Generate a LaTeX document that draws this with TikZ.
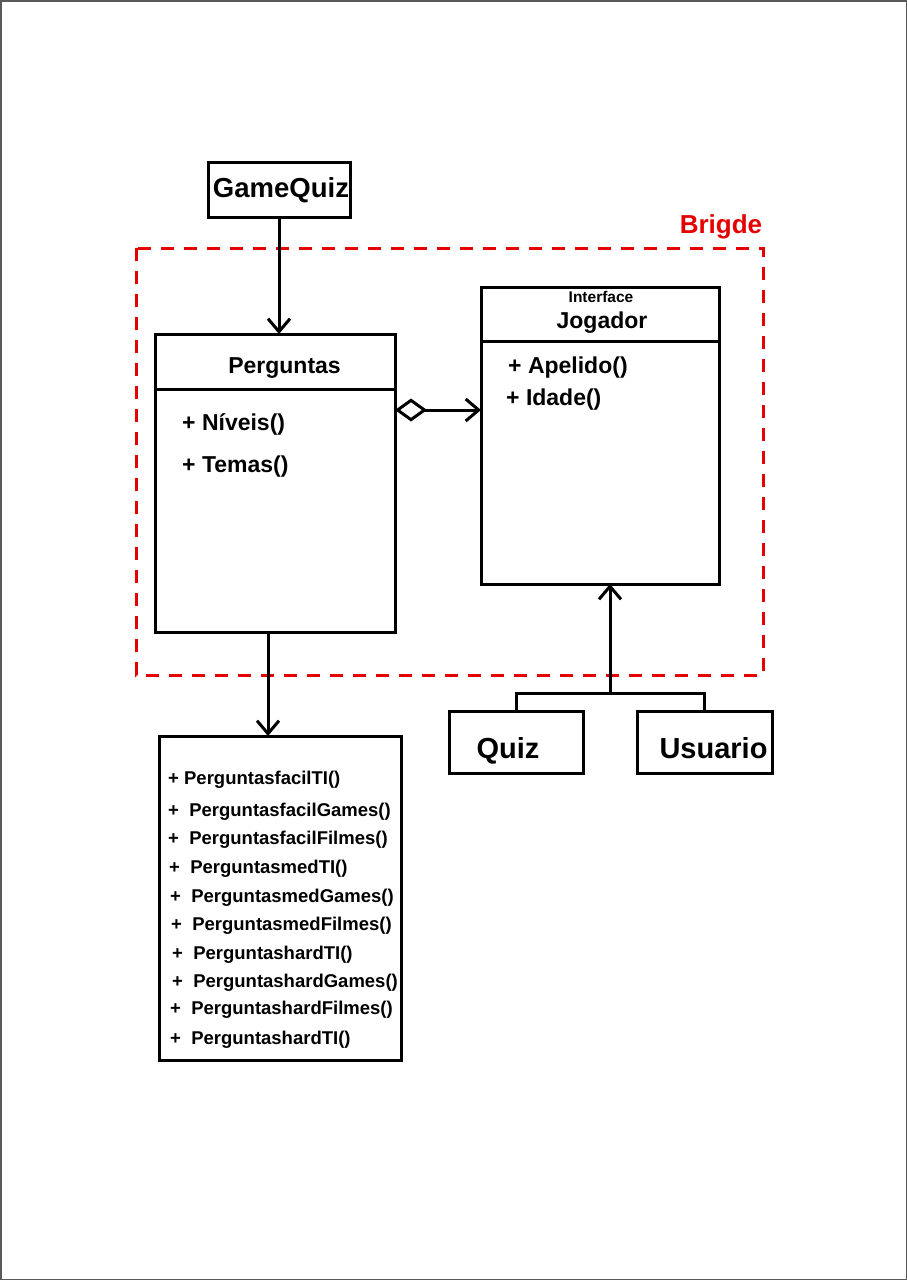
\documentclass[tikz,border=0pt]{standalone}
\usepackage{fontspec}
\setmainfont{Liberation Sans}
\usetikzlibrary{positioning}
\usetikzlibrary{arrows.meta}
\usetikzlibrary{calc}

\begin{document}
\begin{tikzpicture}[x=1pt, y=-1pt,
	box/.style={draw, line width=3pt, inner sep=0, outer sep=0},
	txt/.style={inner sep=0, font=\fontsize{23}{27}\selectfont\bfseries},
	met/.style={inner sep=0, anchor=base west, font=\fontsize{18.5}{21}\selectfont\bfseries},
	arr/.style={line width=3pt, -{Straight Barb[length=13pt, width=22pt]}}]

		\useasboundingbox (0,0) rectangle (907,1280);
		\draw[line width=1.5pt, black!65] (0.75,0.75) rectangle (906.25,1279.25);

		% classes
		\node[box, minimum width=142, minimum height=55] (GQ) at (279,189.5) {};
		\node[txt, anchor=base, font=\fontsize{27.5}{30}\selectfont\bfseries] (GQt) at (281,197) {GameQuiz};
		\node[box, minimum width=240, minimum height=298] (Perg) at (275,483) {};
		\node[txt, anchor=base] (Pergt) at (284.5,373) {Perguntas};
		\draw[line width=3pt] ($(Perg.north west)+(0,55)$) -- ($(Perg.north east)+(0,55)$);
		\node[txt, anchor=base west] (niv) at (182,430) {+ Níveis()};
		\node[txt, anchor=base west] (tem) at (182,472) {+ Temas()};

		\node[box, minimum width=238, minimum height=297] (Jog) at (600,435.5) {};
		\node[txt, anchor=base, font=\fontsize{15.5}{18}\selectfont\bfseries] (intf) at (601,302) {Interface};
		\node[txt, anchor=base] (Jogt) at (602,328) {Jogador};
		\draw[line width=3pt] ($(Jog.north west)+(0,54)$) -- ($(Jog.north east)+(0,54)$);
		\node[txt, anchor=base west] (ape) at (508,373) {+ Apelido()};
		\node[txt, anchor=base west] (ida) at (506,405) {+ Idade()};

		\node[box, minimum width=134, minimum height=62] (Quiz) at (516,742) {};
		\node[txt, anchor=base, font=\fontsize{29}{32}\selectfont\bfseries] (Quizt) at (508,758) {Quiz};
		\node[box, minimum width=135, minimum height=62, right=54 of Quiz] (Usu) {};
		\node[txt, anchor=base, font=\fontsize{29}{32}\selectfont\bfseries] (Usut) at (713.5,758) {Usuario};

		\node[box, minimum width=242, minimum height=324] (Met) at (280,898) {};
		\node[met] (m1) at (168,784.5) {+ PerguntasfacilTI()};
		\node[met] (m2) at (168,816.5) {+\ \ PerguntasfacilGames()};
		\node[met] (m3) at (168,844.5) {+\ \ PerguntasfacilFilmes()};
		\node[met] (m4) at (169,873.5) {+\ \ PerguntasmedTI()};
		\node[met] (m5) at (170,902.5) {+\ \ PerguntasmedGames()};
		\node[met] (m6) at (171,930.5) {+\ \ PerguntasmedFilmes()};
		\node[met] (m7) at (172,959.5) {+\ \ PerguntashardTI()};
		\node[met] (m8) at (172,987.5) {+\ \ PerguntashardGames()};
		\node[met] (m9) at (170,1014.5) {+\ \ PerguntashardFilmes()};
		\node[met] (m10) at (170,1044.5) {+\ \ PerguntashardTI()};

		% bridge
		\draw[line width=3pt, red!90!black, dash pattern=on 13 off 10] (136,248) rectangle (763,675);
		\node[txt, anchor=base, text=red!90!black, font=\fontsize{26}{29}\selectfont\bfseries] (brg) at (721,233) {Brigde};

		\draw[arr] (GQ.south) -- (GQ.south |- Perg.north);
		\draw[arr] ([xshift=-7]Perg.south) -- ([xshift=-7]Perg.south |- Met.north);
		\coordinate (agg) at (0,410);
		\draw[line width=3pt, {Diamond[open, length=32pt, width=23pt]}-{Straight Barb[length=13pt, width=22pt]}] (Perg.east |- agg) -- (Jog.west |- agg);
		\coordinate (fork) at (610,693);
		\draw[arr] (fork) -- (fork |- Jog.south);
		\draw[line width=3pt] (Quiz.north) |- (Usu.north |- fork) -- (Usu.north);
		\end{tikzpicture}
\end{document}
